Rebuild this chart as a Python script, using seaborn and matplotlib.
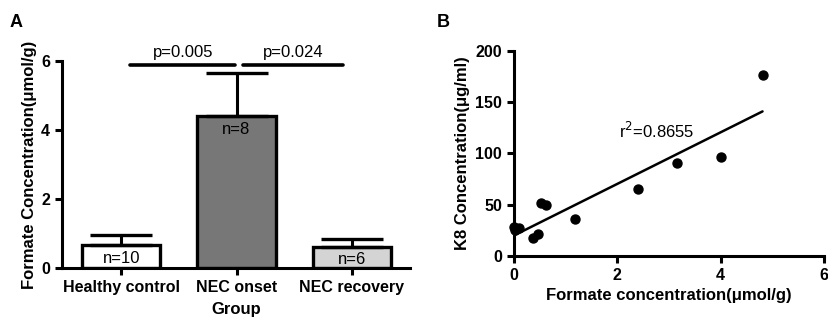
import matplotlib
matplotlib.use("Agg")
import matplotlib.pyplot as plt
import seaborn as sns
import pandas as pd

# panel A data
groups = ["Healthy control", "NEC onset", "NEC recovery"]
means = [0.67, 4.4, 0.62]
sems = [0.28, 1.25, 0.21]
n_labels = ["n=10", "n=8", "n=6"]
bar_colors = ["#ffffff", "#777777", "#d4d4d4"]
sig_pairs = [(0.08, 0.99, "p=0.005"), (1.06, 1.92, "p=0.024")]
sig_y = 5.88

# panel B data
formate = [0.0, 0.02, 0.1, 0.37, 0.47, 0.52, 0.62, 1.18, 2.4, 3.16, 4.01, 4.81]
k8 = [28.5, 25.0, 27.0, 17.2, 21.0, 51.3, 49.7, 36.0, 65.3, 90.3, 96.1, 176.3]
r2_text = "r$^2$=0.8655"

sns.set_style("ticks")
plt.rcParams["font.family"] = ["Liberation Sans", "DejaVu Sans"]
for key in ["text.color", "axes.labelcolor", "xtick.color", "ytick.color", "axes.edgecolor"]:
    plt.rcParams[key] = "black"
plt.rcParams["axes.linewidth"] = 2.2
plt.rcParams["xtick.major.width"] = 2.2
plt.rcParams["ytick.major.width"] = 2.2
plt.rcParams["xtick.major.size"] = 5
plt.rcParams["ytick.major.size"] = 5

fig = plt.figure(figsize=(8.29, 3.18), dpi=100)
axA = fig.add_axes([0.0748, 0.1572, 0.4198, 0.651])
axB = fig.add_axes([0.620, 0.195, 0.374, 0.6456])

dfA = pd.DataFrame({"group": groups, "mean": means})
sns.barplot(data=dfA, x="group", y="mean", hue="group", palette=bar_colors,
            width=0.68, edgecolor="black", linewidth=2.4, legend=False, ax=axA)
for i, (m, e) in enumerate(zip(means, sems)):
    axA.errorbar(i, m, yerr=[[0], [e]], color="black", capsize=22, elinewidth=2.2,
                 capthick=2.4, zorder=1)
    axA.text(i, m - 0.38, n_labels[i], ha="center", va="center", fontsize=12)
for x0, x1, lab in sig_pairs:
    axA.plot([x0, x1], [sig_y, sig_y], color="black", lw=2.6, clip_on=False)
    axA.text((x0 + x1) / 2, sig_y + 0.15, lab, ha="center", va="bottom", fontsize=12)
axA.set_xlim(-0.513, 2.504)
axA.set_ylim(0, 6)
axA.set_yticks([0, 2, 4, 6])
axA.set_xlabel("Group", fontsize=12, fontweight="bold", labelpad=5)
axA.set_ylabel("Formate Concentration(μmol/g)", fontsize=12, fontweight="bold", labelpad=3)
for lab in axA.get_xticklabels() + axA.get_yticklabels():
    lab.set_fontweight("bold")
    lab.set_fontsize(11.5)
sns.despine(ax=axA)

sns.regplot(x=formate, y=k8, ci=None, ax=axB,
            scatter_kws={"s": 42, "color": "black", "alpha": 1, "clip_on": False, "zorder": 3},
            line_kws={"color": "black", "lw": 1.8})
axB.text(2.77, 122, r2_text, ha="center", va="center", fontsize=12)
axB.set_xlim(0, 6)
axB.set_ylim(0, 200)
axB.set_xticks([0, 2, 4, 6])
axB.set_yticks([0, 50, 100, 150, 200])
axB.set_xlabel("Formate concentration(μmol/g)", fontsize=12, fontweight="bold")
axB.set_ylabel("K8 Concentration(μg/ml)", fontsize=12, fontweight="bold")
for lab in axB.get_xticklabels() + axB.get_yticklabels():
    lab.set_fontweight("bold")
    lab.set_fontsize(11.5)
sns.despine(ax=axB)

fig.text(0.012, 0.915, "A", fontsize=13, fontweight="bold")
fig.text(0.527, 0.915, "B", fontsize=13, fontweight="bold")

fig.savefig("out.png", dpi=100)
